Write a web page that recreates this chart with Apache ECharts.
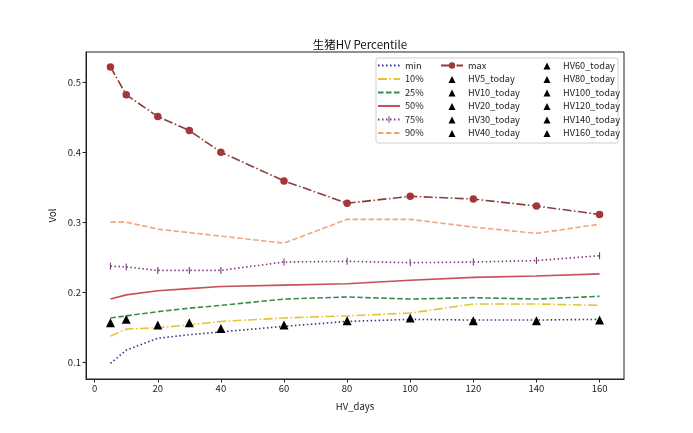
<!DOCTYPE html>
<html>
<head>
<meta charset="utf-8">
<script src="https://cdn.jsdelivr.net/npm/echarts@6/dist/echarts.min.js"></script>
<style>
  html, body { margin: 0; padding: 0; background: #fff; }
  #main { width: 693px; height: 433px; }
</style>
</head>
<body>
<div id="main"></div>
<script>
// HV window lengths (x axis)
const days = [5, 10, 20, 30, 40, 60, 80, 100, 120, 140, 160];

// percentile curves
const minVals = [0.098, 0.117, 0.134, 0.139, 0.143, 0.151, 0.158, 0.161, 0.160, 0.160, 0.161];
const p10Vals = [0.137, 0.147, 0.149, 0.153, 0.158, 0.163, 0.166, 0.170, 0.183, 0.183, 0.181];
const p25Vals = [0.163, 0.166, 0.172, 0.177, 0.181, 0.190, 0.193, 0.190, 0.192, 0.190, 0.194];
const p50Vals = [0.190, 0.196, 0.202, 0.205, 0.208, 0.210, 0.212, 0.217, 0.221, 0.223, 0.226];
const p75Vals = [0.237, 0.236, 0.231, 0.231, 0.231, 0.243, 0.244, 0.242, 0.243, 0.245, 0.252];
const p90Vals = [0.300, 0.300, 0.290, 0.285, 0.280, 0.270, 0.304, 0.304, 0.293, 0.284, 0.297];
const maxVals = [0.522, 0.482, 0.451, 0.431, 0.400, 0.359, 0.327, 0.337, 0.333, 0.323, 0.311];

// today's HV, one marker per window
const todayNames = ['HV5_today', 'HV10_today', 'HV20_today', 'HV30_today', 'HV40_today', 'HV60_today',
                    'HV80_today', 'HV100_today', 'HV120_today', 'HV140_today', 'HV160_today'];
const todayVals = [0.156, 0.161, 0.153, 0.156, 0.148, 0.153, 0.159, 0.163, 0.159, 0.159, 0.160];

// tick labels
const xTicks = [0, 20, 40, 60, 80, 100, 120, 140, 160];
const yTicks = [0.1, 0.2, 0.3, 0.4, 0.5];

const font = '"Noto Sans CJK SC", "DejaVu Sans", sans-serif';
const triIcon = 'path://M0,0M22,8M7.5,8L11,1L14.5,8Z';
const vbar = 'path://M0,0M10,10M4.2,0L5.8,0L5.8,10L4.2,10Z';

function pairs(vals) {
  return days.map((d, i) => [d, vals[i]]);
}

function lineSeries(name, vals, color, type, extra) {
  return Object.assign({
    name: name,
    type: 'line',
    data: pairs(vals),
    symbol: 'none',
    lineStyle: { color: color, width: 1.6, type: type },
    itemStyle: { color: color },
    z: 2
  }, extra || {});
}

const series = [
  lineSeries('min', minVals, '#34348f', [1.5, 2.5]),
  lineSeries('10%', p10Vals, '#e6c235', [9, 2.5, 1.5, 2.5]),
  lineSeries('25%', p25Vals, '#3b8a4c', [5.5, 2.5]),
  lineSeries('50%', p50Vals, '#c8505c', 'solid'),
  lineSeries('75%', p75Vals, '#7a3d7e', [1.5, 2.5], { symbol: vbar, symbolSize: 7 }),
  lineSeries('90%', p90Vals, '#f2a57a', [5.5, 2.5]),
  lineSeries('max', maxVals, '#8e3b3b', [9, 2.5, 1.5, 2.5], {
    symbol: 'circle', symbolSize: 7.5, itemStyle: { color: '#a33636' }
  })
];

todayNames.forEach((name, i) => {
  series.push({
    name: name,
    type: 'scatter',
    data: [[days[i], todayVals[i]]],
    symbol: 'triangle',
    symbolSize: 9,
    itemStyle: { color: '#000', opacity: 1 },
    z: 5
  });
});

const legendBase = {
  orient: 'vertical',
  top: 60.5,
  itemWidth: 22,
  itemHeight: 8,
  itemGap: 3.5,
  padding: 0,
  selectedMode: false,
  textStyle: { fontFamily: font, fontSize: 9.2, lineHeight: 10, color: '#222' }
};

// plain lines get no marker in the legend
const noMark = n => ({ name: n, itemStyle: { opacity: 0 } });

var myChart = echarts.init(document.getElementById('main'), null, { renderer: 'canvas' });

var option = {
  animation: false,
  backgroundColor: '#fff',
  title: {
    text: '生猪HV Percentile',
    left: 355,
    textAlign: 'center',
    top: 34,
    textStyle: { fontFamily: font, fontSize: 11.5, fontWeight: 'normal', color: '#111' }
  },
  grid: {
    left: 86, right: 69, top: 52, bottom: 54,
    show: true, borderColor: '#222', borderWidth: 1, backgroundColor: 'transparent'
  },
  legend: [
    Object.assign({}, legendBase, {
      left: 377,
      data: [noMark('min'), noMark('10%'), noMark('25%'), noMark('50%'), '75%', noMark('90%')]
    }),
    Object.assign({}, legendBase, {
      left: 440,
      data: ['max'].concat(todayNames.slice(0, 5).map(n => ({ name: n, icon: triIcon })))
    }),
    Object.assign({}, legendBase, {
      left: 536,
      data: todayNames.slice(5).map(n => ({ name: n, icon: triIcon }))
    })
  ],
  graphic: [{
    type: 'rect',
    shape: { x: 376, y: 58, width: 242, height: 85, r: 2 },
    style: { fill: 'rgba(255,255,255,0.8)', stroke: '#d0d0d0', lineWidth: 1 },
    z: 0
  }],
  xAxis: {
    type: 'value',
    min: -2.75,
    max: 167.75,
    name: 'HV_days',
    nameLocation: 'middle',
    nameGap: 23,
    nameTextStyle: { fontFamily: font, fontSize: 9.5, color: '#222' },
    axisLine: { show: true, onZero: false, lineStyle: { color: '#222', width: 1 } },
    axisTick: { show: true, length: 3.5, customValues: xTicks, lineStyle: { color: '#222' } },
    axisLabel: { customValues: xTicks, fontFamily: font, fontSize: 9.5, color: '#222', margin: 5 },
    splitLine: { show: false }
  },
  yAxis: {
    type: 'value',
    min: 0.0757,
    max: 0.5433,
    name: 'Vol',
    nameLocation: 'middle',
    nameGap: 29,
    nameTextStyle: { fontFamily: font, fontSize: 9.5, color: '#222' },
    axisLine: { show: true, onZero: false, lineStyle: { color: '#222', width: 1 } },
    axisTick: { show: true, length: 3.5, customValues: yTicks, lineStyle: { color: '#222' } },
    axisLabel: {
      customValues: yTicks, fontFamily: font, fontSize: 9.5, color: '#222', margin: 5,
      formatter: v => v.toFixed(1)
    },
    splitLine: { show: false }
  },
  series: series
};

myChart.setOption(option);
</script>
</body>
</html>
